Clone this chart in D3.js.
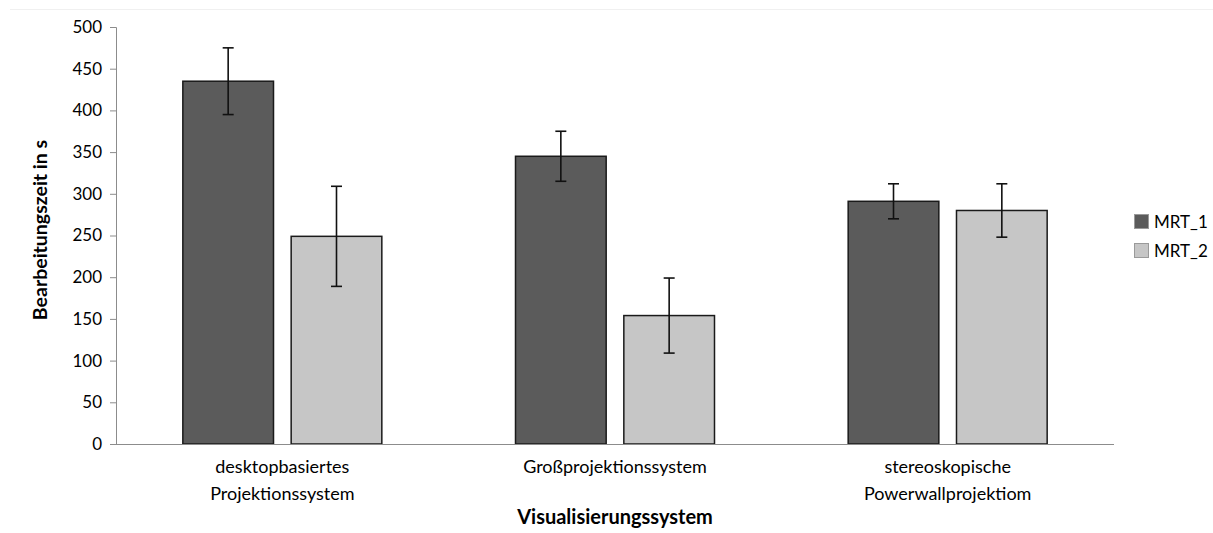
<!DOCTYPE html>
<html><head><meta charset="utf-8">
<script src="https://cdn.jsdelivr.net/npm/d3@7"></script>
<style>body{margin:0;background:#fff}svg{display:block}</style>
</head><body>
<svg id="c" width="1213" height="533"></svg>
<script>
const categories = [["desktopbasiertes","Projektionssystem"],["Großprojektionssystem"],["stereoskopische","Powerwallprojektiom"]];
const seriesNames = ["MRT_1","MRT_2"];
const mrt1 = [435, 345, 291];
const mrt2 = [249, 154, 280];
const err1 = [40, 30, 21];
const err2 = [60, 45, 32];
const yTicks = [0,50,100,150,200,250,300,350,400,450,500];
const yTitle = "Bearbeitungszeit in s";
const xTitle = "Visualisierungssystem";

const FONT = "Lato, 'Open Sans', sans-serif";
const svg = d3.select("#c");
const L = 116, R = 1114, T = 27, B = 444;
const colors = ["#5b5b5b", "#c6c6c6"];

// faint top border line
svg.append("line").attr("x1",10).attr("x2",1213).attr("y1",9.5).attr("y2",9.5).attr("stroke","#f0f0f0");

const x0 = d3.scaleBand().domain(d3.range(categories.length)).range([L,R]).padding(0);
const x1 = d3.scaleBand().domain(seriesNames).range([0,x0.bandwidth()]).paddingInner(0.163).paddingOuter(0.617);
const y = d3.scaleLinear().domain([0,500]).range([B,T]);

// y axis
const ya = svg.append("g").attr("transform",`translate(${L},0)`)
  .call(d3.axisLeft(y).tickValues(yTicks).tickSize(6).tickPadding(8));
ya.select(".domain").attr("stroke","#8c8c8c");
ya.selectAll(".tick line").attr("stroke","#8c8c8c");
ya.selectAll("text").attr("font-family",FONT).attr("font-size",17).attr("fill","#000");

const data = seriesNames.map((s,i)=>({name:s, vals:i===0?mrt1:mrt2, errs:i===0?err1:err2, color:colors[i]}));

const g = svg.append("g");
data.forEach(s=>{
  s.vals.forEach((v,ci)=>{
    const bx = x0(ci)+x1(s.name);
    g.append("rect").attr("x",bx).attr("y",y(v)).attr("width",x1.bandwidth()).attr("height",y(0)-y(v))
      .attr("fill",s.color).attr("stroke","#1a1a1a").attr("stroke-width",1.5);
  });
});

// x axis line
svg.append("line").attr("x1",L).attr("x2",R).attr("y1",B+0.5).attr("y2",B+0.5).attr("stroke","#8c8c8c");

// error bars
data.forEach(s=>{
  s.vals.forEach((v,ci)=>{
    const cx = x0(ci)+x1(s.name)+x1.bandwidth()/2;
    const e = s.errs[ci];
    const eg = svg.append("g").attr("stroke","#111").attr("stroke-width",1.6);
    eg.append("line").attr("x1",cx).attr("x2",cx).attr("y1",y(v+e)).attr("y2",y(v-e));
    eg.append("line").attr("x1",cx-5.5).attr("x2",cx+5.5).attr("y1",y(v+e)).attr("y2",y(v+e));
    eg.append("line").attr("x1",cx-5.5).attr("x2",cx+5.5).attr("y1",y(v-e)).attr("y2",y(v-e));
  });
});

// category labels
categories.forEach((lines,ci)=>{
  const cx = x0(ci)+x0.bandwidth()/2;
  const t = svg.append("text").attr("x",cx).attr("y",473).attr("text-anchor","middle")
    .attr("font-family",FONT).attr("font-size",18).attr("fill","#000");
  lines.forEach((ln,li)=>t.append("tspan").attr("x",cx).attr("dy",li===0?0:27).text(ln));
});

// axis titles
svg.append("text").attr("x",(L+R)/2).attr("y",524).attr("text-anchor","middle")
  .attr("font-family",FONT).attr("font-weight","bold").attr("font-size",20).text(xTitle);
svg.append("text").attr("transform",`translate(47,230) rotate(-90)`).attr("text-anchor","middle")
  .attr("font-family",FONT).attr("font-weight","bold").attr("font-size",19.5).text(yTitle);

// legend
seriesNames.forEach((s,i)=>{
  const ly = 214 + i*29;
  svg.append("rect").attr("x",1134.5).attr("y",ly+0.5).attr("width",14).attr("height",14)
    .attr("fill",colors[i]).attr("stroke","#9a9a9a").attr("stroke-width",1);
  svg.append("text").attr("x",1154).attr("y",ly+14).attr("font-family",FONT).attr("font-size",17).text(s);
});
</script>
</body></html>
